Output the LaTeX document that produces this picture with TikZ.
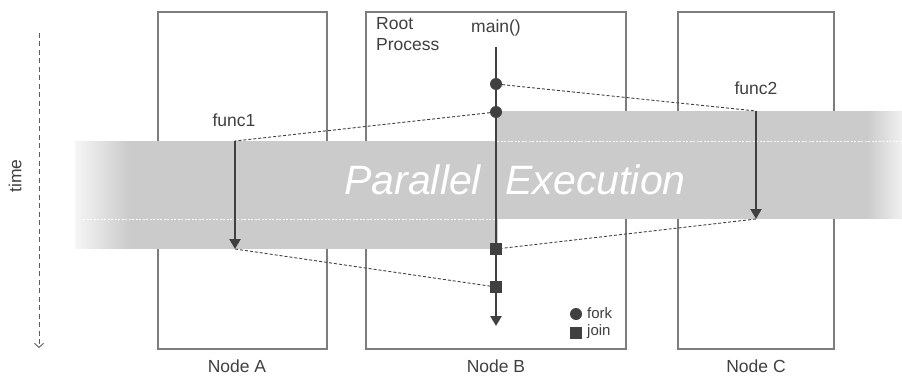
\documentclass[tikz,border=0pt]{standalone}
\usepackage{fontspec}
\setmainfont{Liberation Sans}
\usetikzlibrary{arrows.meta}
\definecolor{bandgray}{RGB}{203,203,204}
\definecolor{ink}{RGB}{64,64,64}
\definecolor{boxline}{RGB}{125,125,125}
\begin{document}
\begin{tikzpicture}[x=1pt,y=-1pt,
  nodebox/.style={draw=boxline, line width=1.2pt, fill=white},
  lbl/.style={font=\fontsize{17.5}{21}\selectfont, text=ink},
  small/.style={font=\fontsize{15}{17}\selectfont, text=ink},
  link/.style={draw=ink, dash pattern=on 3pt off 2pt, line width=0.9pt},
  flow/.style={draw=ink, line width=2.2pt, -{Triangle[width=11pt,length=10pt]}},
  forkmark/.style={circle, fill=ink, minimum size=12pt, inner sep=0pt},
  joinmark/.style={rectangle, fill=ink, minimum size=11.5pt, inner sep=0pt},
  seam/.style={draw=white, dash pattern=on 2pt off 1.5pt, line width=0.7pt}]
\useasboundingbox (0,0) rectangle (902,377);
% node boxes
\draw[nodebox] (158,12) rectangle (327,349);
\draw[nodebox] (366,12) rectangle (626,349);
\draw[nodebox] (678,12) rectangle (834,349);
\node[lbl] (na) at (237,366) {Node A};
\node[lbl] (nb) at (496,366) {Node B};
\node[lbl] (nc) at (756,366) {Node C};
% parallel band
\fill[bandgray] (129,141) rectangle (497.5,249);
\foreach \i in {0,...,54} {
  \pgfmathsetmacro\p{18+82*\i/54}
  \fill[bandgray!\p] (75+\i,141) rectangle (76.2+\i,249);
}
\fill[bandgray] (497,111) rectangle (868,219);
\foreach \i in {0,...,34} {
  \pgfmathsetmacro\p{100-70*\i/34}
  \fill[bandgray!\p] (867+\i,111) rectangle (868.2+\i,219);
}
\draw[seam] (83,219) -- (497,219);
\draw[seam] (497,141) -- (902,141);
\node[text=white, font=\fontsize{41}{45}\selectfont\itshape] (pe) at (515,180) {Parallel\hspace{0.6em}Execution};
% time axis
\coordinate (t0) at (39,33);
\coordinate (t1) at (39,348);
\draw[draw=ink!85, line width=0.9pt, dash pattern=on 5pt off 3.5pt, -{Straight Barb[length=4pt,width=9pt]}] (t0) -- (t1);
\node[lbl, rotate=90] (time) at (15,176) {time};
% root process
\node[lbl, align=left, anchor=north west, inner sep=0pt] (root) at (376,17) {Root\\Process};
\node[lbl] (main) at (496,28) {main()};
\coordinate (mtop) at (496,47);
\coordinate (mend) at (496,326);
\draw[flow, line width=2.6pt] (mtop) -- (mend);
% functions
\node[lbl] (fn1) at (234,120) {func1};
\coordinate (a1) at (235,141);
\coordinate (b1) at (235,249);
\draw[flow] (a1) -- (b1);
\node[lbl] (fn2) at (756,88) {func2};
\coordinate (a2) at (756,111);
\coordinate (b2) at (756,219);
\draw[flow] (a2) -- (b2);
% fork/join markers
\node[forkmark] (f1) at (496,84) {};
\node[forkmark] (f2) at (496,112) {};
\node[joinmark] (j1) at (496,249) {};
\node[joinmark] (j2) at (496,287) {};
% dashed links
\draw[link] (f1) -- (a2);
\draw[link] (f2) -- (a1);
\draw[link] (b2) -- (j1);
\draw[link] (b1) -- (j2);
% legend
\node[forkmark] (lf) at (576,314) {};
\node[small, anchor=west, inner sep=0pt] (lft) at (587,313) {fork};
\node[joinmark] (lj) at (576,333) {};
\node[small, anchor=west, inner sep=0pt] (ljt) at (587,332) {join};
\end{tikzpicture}
\end{document}
